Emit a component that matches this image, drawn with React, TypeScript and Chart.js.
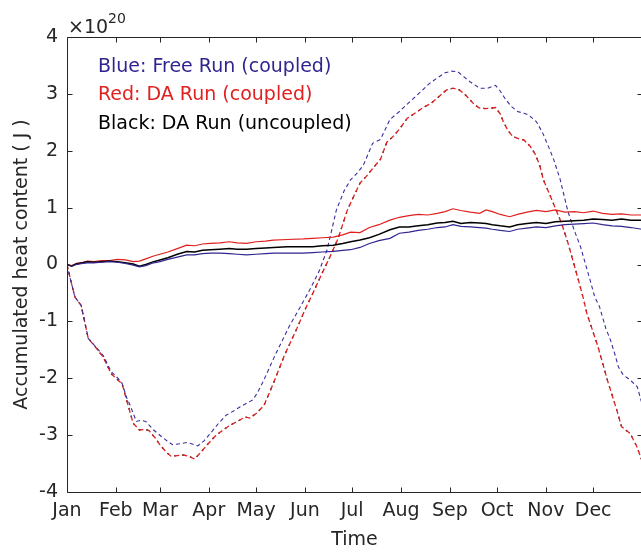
import React, { useEffect, useRef } from 'react';
import { Chart, registerables } from 'chart.js';

Chart.register(...registerables);

const FONT = '"DejaVu Sans", "Liberation Sans", sans-serif';
const AXIS_COLOR = '#262626';
const BLUE = '#2f2590';
const RED = '#e01f1f';
const BLACK = '#000000';

// Axis definitions
const monthNames = ['Jan', 'Feb', 'Mar', 'Apr', 'May', 'Jun', 'Jul', 'Aug', 'Sep', 'Oct', 'Nov', 'Dec'];
const monthStartDays = [0, 31, 59, 90, 120, 151, 181, 212, 243, 273, 304, 334, 365];
const yTicks = [-4, -3, -2, -1, 0, 1, 2, 3, 4];
const exponentLabel = '×10';
const exponentPower = '20';
const legendLines = [
  { text: 'Blue: Free Run (coupled)', color: BLUE },
  { text: 'Red: DA Run (coupled)', color: RED },
  { text: 'Black: DA Run (uncoupled)', color: BLACK },
];

// Blue dashed: Free Run (coupled), large-amplitude curve (x = day of year, y in 1e20 J)
const blueDashDays = [0, 2, 5, 9, 11, 13.5, 18, 23, 28, 33, 35, 38, 40, 44, 47, 50, 55, 61, 67, 72, 76, 80, 83, 87, 91, 96, 101, 106, 110, 114, 118, 121, 125, 132, 141, 148, 154, 160, 165, 168, 171, 176, 180, 184, 188, 194, 199, 205, 211, 216, 220, 225, 230, 235, 240, 244, 248, 252, 256, 262, 267, 272, 275, 278, 282, 286, 290, 293, 298, 302, 306, 309, 313, 318, 322, 326, 332, 335, 338, 342, 345, 348, 350, 353, 356, 359, 362, 365];
const blueDashVals = [0, -0.24, -0.57, -0.72, -0.98, -1.3, -1.44, -1.6, -1.88, -2.02, -2.09, -2.35, -2.47, -2.76, -2.74, -2.76, -2.91, -3.05, -3.17, -3.15, -3.13, -3.16, -3.19, -3.1, -2.97, -2.8, -2.65, -2.57, -2.5, -2.44, -2.38, -2.25, -2.03, -1.6, -1.09, -0.75, -0.45, -0.12, 0.25, 0.6, 0.96, 1.3, 1.49, 1.6, 1.74, 2.13, 2.2, 2.55, 2.69, 2.82, 2.92, 3.05, 3.18, 3.28, 3.37, 3.4, 3.39, 3.3, 3.21, 3.1, 3.1, 3.15, 3.05, 2.92, 2.78, 2.69, 2.66, 2.63, 2.51, 2.31, 2.05, 1.84, 1.5, 0.93, 0.6, 0.31, -0.27, -0.57, -0.74, -1.12, -1.33, -1.6, -1.8, -1.94, -2.0, -2.07, -2.15, -2.45];

// Red dashed: DA Run (coupled), large-amplitude curve
const redDashDays = [0, 2, 5, 9, 11, 13.5, 18, 23, 28, 33, 35, 38, 42, 46, 50, 52, 56, 59, 63, 66, 70, 74, 78, 81, 85, 89, 94, 99, 104, 110, 113, 116, 120, 125, 131, 138, 146, 151, 156, 162, 167, 172, 178, 182, 186, 190, 195, 199, 203, 207, 211, 216, 222, 226, 231, 236, 241, 245, 249, 253, 256, 259, 262, 266, 272, 275, 277, 280, 283, 287, 290, 294, 297, 300, 302.4, 307, 314, 318, 324.6, 328, 330, 337, 343, 349, 352, 355, 357.5, 361.7, 365];
const redDashVals = [0, -0.24, -0.57, -0.72, -0.98, -1.3, -1.45, -1.63, -1.92, -2.05, -2.1, -2.4, -2.79, -2.91, -2.9, -2.92, -3.05, -3.17, -3.3, -3.37, -3.36, -3.35, -3.38, -3.42, -3.3, -3.17, -3.02, -2.91, -2.82, -2.73, -2.68, -2.7, -2.62, -2.48, -2.09, -1.6, -1.12, -0.8, -0.51, -0.15, 0.14, 0.45, 0.96, 1.2, 1.43, 1.55, 1.72, 1.85, 2.15, 2.25, 2.38, 2.57, 2.68, 2.76, 2.83, 2.95, 3.07, 3.1, 3.07, 2.98, 2.89, 2.8, 2.75, 2.74, 2.76, 2.65, 2.51, 2.35, 2.25, 2.21, 2.19, 2.08, 1.95, 1.75, 1.49, 1.19, 0.72, 0.38, -0.27, -0.62, -0.86, -1.44, -2.03, -2.56, -2.85, -2.92, -2.97, -3.2, -3.45];

// Black dashed: DA Run (uncoupled), large-amplitude curve (overlaps the red one)
const blackDashDays = redDashDays;
const blackDashVals = redDashVals;

// Solid (small-amplitude) curves share one day grid
const solidDays = [0, 3, 6, 10, 13, 17, 22, 27, 32, 37, 42, 46, 50, 55, 59, 64, 70, 76, 81, 86, 91, 97, 103, 108, 114, 120, 126, 131, 140, 150, 156, 162, 169, 175, 180, 186, 192, 198, 205, 211, 217, 223, 229, 235, 240, 245, 250, 256, 262, 266, 270, 275, 281, 286, 292, 298, 304, 310, 316, 322, 328, 334, 340, 346, 352, 358, 365];
const redSolidVals = [0, -0.02, 0.02, 0.04, 0.06, 0.05, 0.07, 0.07, 0.09, 0.08, 0.05, 0.06, 0.1, 0.15, 0.18, 0.22, 0.28, 0.34, 0.33, 0.36, 0.37, 0.38, 0.4, 0.38, 0.37, 0.4, 0.41, 0.43, 0.44, 0.45, 0.46, 0.47, 0.48, 0.52, 0.57, 0.56, 0.65, 0.7, 0.78, 0.83, 0.86, 0.88, 0.87, 0.9, 0.93, 0.98, 0.95, 0.92, 0.9, 0.96, 0.93, 0.88, 0.84, 0.88, 0.92, 0.95, 0.93, 0.96, 0.92, 0.93, 0.91, 0.94, 0.9, 0.88, 0.89, 0.87, 0.87];
const blackSolidVals = [0, -0.03, 0.01, 0.03, 0.05, 0.04, 0.05, 0.06, 0.05, 0.03, 0.01, -0.03, 0.0, 0.05, 0.08, 0.12, 0.18, 0.23, 0.22, 0.25, 0.26, 0.27, 0.28, 0.27, 0.27, 0.28, 0.29, 0.3, 0.31, 0.31, 0.31, 0.33, 0.34, 0.37, 0.4, 0.43, 0.47, 0.53, 0.61, 0.66, 0.66, 0.68, 0.7, 0.73, 0.74, 0.76, 0.72, 0.74, 0.73, 0.72, 0.7, 0.68, 0.66, 0.7, 0.72, 0.74, 0.72, 0.75, 0.76, 0.77, 0.78, 0.8, 0.79, 0.78, 0.8, 0.78, 0.78];
const blueSolidVals = [0, -0.03, 0.0, 0.02, 0.03, 0.03, 0.04, 0.05, 0.04, 0.02, -0.01, -0.04, -0.02, 0.03, 0.05, 0.09, 0.13, 0.17, 0.17, 0.19, 0.2, 0.2, 0.19, 0.18, 0.17, 0.18, 0.19, 0.2, 0.2, 0.2, 0.21, 0.22, 0.23, 0.25, 0.26, 0.3, 0.37, 0.42, 0.46, 0.55, 0.57, 0.6, 0.62, 0.65, 0.66, 0.7, 0.67, 0.66, 0.65, 0.64, 0.62, 0.6, 0.58, 0.62, 0.64, 0.66, 0.65, 0.68, 0.7, 0.71, 0.72, 0.73, 0.7, 0.68, 0.67, 0.65, 0.62];

const toPoints = (days: number[], vals: number[]) => days.map((d, i) => ({ x: d, y: vals[i] }));

const framePlugin = {
  id: 'matlabFrame',
  afterDraw(chart: any) {
    const { ctx, chartArea } = chart;
    const { left, right, top, bottom } = chartArea;
    const xs = chart.scales.x;
    const ys = chart.scales.y;
    ctx.save();
    ctx.strokeStyle = AXIS_COLOR;
    ctx.lineWidth = 1;
    ctx.beginPath();
    const L = Math.round(left) + 0.5;
    const R = Math.round(right) + 0.5;
    const T = Math.round(top) + 0.5;
    const B = Math.round(bottom) + 0.5;
    ctx.moveTo(L, T); ctx.lineTo(R, T); ctx.lineTo(R, B); ctx.lineTo(L, B); ctx.closePath();
    const tl = 5;
    monthStartDays.forEach((d) => {
      const px = Math.round(xs.getPixelForValue(d)) + 0.5;
      ctx.moveTo(px, B); ctx.lineTo(px, B - tl);
      ctx.moveTo(px, T); ctx.lineTo(px, T + tl);
    });
    yTicks.forEach((v) => {
      const py = Math.round(ys.getPixelForValue(v)) + 0.5;
      ctx.moveTo(L, py); ctx.lineTo(L + tl, py);
      ctx.moveTo(R, py); ctx.lineTo(R - tl, py);
    });
    ctx.stroke();

    // exponent label
    ctx.fillStyle = AXIS_COLOR;
    ctx.textAlign = 'left';
    ctx.textBaseline = 'alphabetic';
    ctx.font = `19px ${FONT}`;
    ctx.fillText(exponentLabel, left + 1, top - 4);
    const w = ctx.measureText(exponentLabel).width;
    ctx.font = `14px ${FONT}`;
    ctx.fillText(exponentPower, left + 1 + w, top - 14);

    // text annotations
    ctx.font = `19px ${FONT}`;
    ctx.textBaseline = 'middle';
    legendLines.forEach((ln, i) => {
      ctx.fillStyle = ln.color;
      ctx.fillText(ln.text, left + 31, top + 30 + i * 28.3);
    });
    ctx.restore();
  },
};

export default function App() {
  const ref = useRef<HTMLCanvasElement>(null);
  useEffect(() => {
    const canvas = ref.current;
    if (!canvas) return;
    const lineBase = { pointRadius: 0, pointHoverRadius: 0, tension: 0, fill: false };
    const chart = new Chart(canvas, {
      type: 'line',
      data: {
        datasets: [
          { ...lineBase, label: 'Blue solid', data: toPoints(solidDays, blueSolidVals), borderColor: BLUE, borderWidth: 1.2 },
          { ...lineBase, label: 'Black solid', data: toPoints(solidDays, blackSolidVals), borderColor: BLACK, borderWidth: 1.5 },
          { ...lineBase, label: 'Red solid', data: toPoints(solidDays, redSolidVals), borderColor: RED, borderWidth: 1.2 },
          { ...lineBase, label: 'Blue dashed', data: toPoints(blueDashDays, blueDashVals), borderColor: '#3a2f9e', borderWidth: 1.1, borderDash: [4, 3] },
          { ...lineBase, label: 'Red dashed', data: toPoints(redDashDays, redDashVals), borderColor: RED, borderWidth: 1.3, borderDash: [5, 3] },
          { ...lineBase, label: 'Black dashed', data: toPoints(blackDashDays, blackDashVals), borderColor: BLACK, borderWidth: 1.2, borderDash: [2, 6] },
        ],
      },
      options: {
        responsive: false,
        animation: false,
        events: [],
        layout: { padding: { left: 0, top: 37, right: 58, bottom: 0 } },
        plugins: { legend: { display: false }, tooltip: { enabled: false }, title: { display: false } },
        scales: {
          x: {
            type: 'linear',
            min: 0,
            max: 365,
            grid: { display: false, drawTicks: false },
            border: { display: false },
            afterBuildTicks: (scale: any) => {
              scale.ticks = monthStartDays.map((d) => ({ value: d }));
            },
            afterFit: (scale: any) => { scale.height = 60; },
            ticks: {
              autoSkip: false,
              maxRotation: 0,
              minRotation: 0,
              padding: 8,
              color: AXIS_COLOR,
              font: { family: FONT, size: 19 },
              callback: (v: any) => {
                const idx = monthStartDays.indexOf(Number(v));
                return idx >= 0 && idx < monthNames.length ? monthNames[idx] : '';
              },
            },
            title: { display: true, text: 'Time', color: AXIS_COLOR, font: { family: FONT, size: 19 }, padding: { top: 0, bottom: 1 } },
          },
          y: {
            type: 'linear',
            min: -4,
            max: 4,
            grid: { display: false, drawTicks: false },
            border: { display: false },
            afterBuildTicks: (scale: any) => {
              scale.ticks = yTicks.map((v) => ({ value: v }));
            },
            afterFit: (scale: any) => { scale.width = 67; },
            ticks: {
              padding: 9,
              color: AXIS_COLOR,
              font: { family: FONT, size: 19 },
              callback: (v: any) => String(v),
            },
            title: { display: true, text: 'Accumulated heat content ( J )', color: AXIS_COLOR, font: { family: FONT, size: 19 }, padding: { top: 11, bottom: 0 } },
          },
        },
      },
      plugins: [framePlugin],
    } as any);
    return () => chart.destroy();
  }, []);
  return (
    <div style={{ position: 'fixed', left: 0, top: 0, width: 641, height: 552, overflow: 'hidden', background: '#ffffff' }}>
      <canvas ref={ref} width={700} height={552} style={{ width: 700, height: 552, display: 'block' }} />
    </div>
  );
}
